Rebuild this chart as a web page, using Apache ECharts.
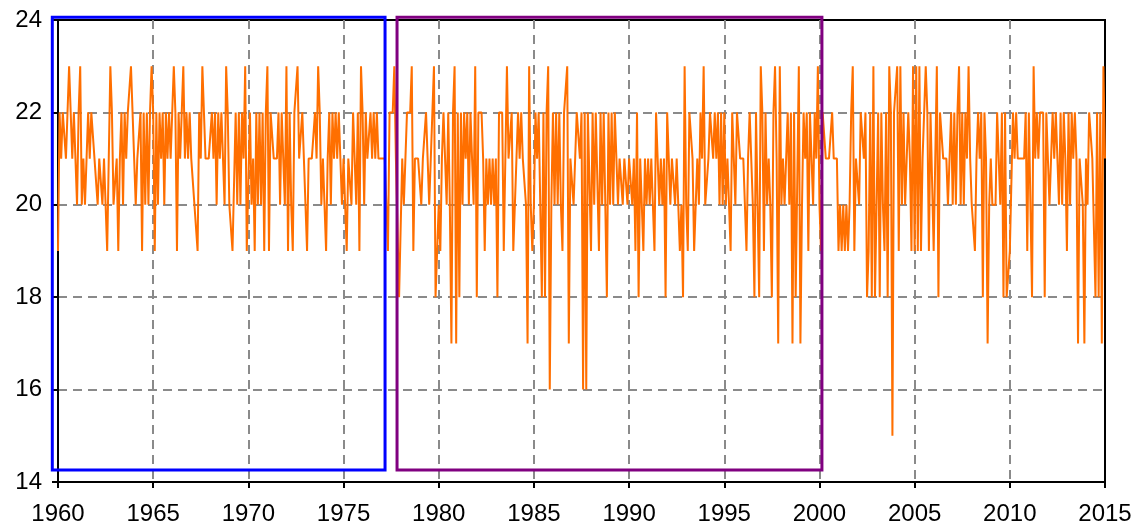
<!DOCTYPE html>
<html><head><meta charset="utf-8">
<script src="https://cdn.jsdelivr.net/npm/echarts@6/dist/echarts.min.js"></script>
<style>html,body{margin:0;padding:0;background:#fff}#c{width:1138px;height:532px}</style>
</head><body><div id="c"></div>
<script>
// Monthly series starting January 1960
const startYear = 1960;
const values1960s = [
  19,22,21,22,22,21,22,23,22,21,22,21,
  20,22,23,20,21,20,21,22,21,22,22,21,
  21,20,21,21,20,21,21,19,21,23,22,20,
  20,21,19,21,22,20,22,21,22,22,23,22,
  21,20,21,21,22,19,22,20,22,20,22,23,
  22,19,22,20,22,21,22,20,22,21,22,21,
  22,23,22,19,22,21,22,23,21,22,21,22,
  21,21,20,20,19,22,21,23,22,21,21,21,
  21,22,21,22,20,22,21,22,22,20,23,22,
  20,20,19,19,22,20,22,20,22,21,23,19
];
const values1970s = [
  19,22,20,21,19,22,20,22,20,22,19,22,
  23,19,22,22,21,21,21,22,20,22,21,20,
  23,19,22,20,19,22,22,23,21,21,22,21,
  21,19,21,21,21,21,22,21,23,22,20,21,
  20,19,21,22,20,22,21,22,21,22,21,20,
  21,20,19,21,21,20,22,22,20,22,19,23,
  22,20,22,21,21,22,21,22,21,22,21,21,
  21,21,21,20,19,22,22,22,23,21,21,18,
  18,21,20,21,22,22,22,23,19,21,21,21,
  21,20,21,21,22,21,20,21,22,23,18,18
];
const values1980s = [
  20,19,21,22,22,20,22,20,17,22,23,17,
  22,18,22,20,22,21,22,20,22,22,20,23,
  18,22,22,22,21,19,21,20,21,20,21,20,
  21,18,22,22,22,19,21,23,21,21,22,19,
  19,21,22,21,22,21,21,20,17,23,20,19,
  20,22,21,22,22,18,22,18,22,23,16,20,
  22,20,22,20,22,20,19,22,22,23,17,21,
  21,20,20,22,22,21,22,16,22,16,22,22,
  19,22,20,22,22,19,22,20,22,22,18,22,
  20,22,20,22,22,20,21,21,20,21,21,20
];
const values1990s = [
  21,21,20,21,19,22,18,21,21,19,21,20,
  21,20,21,20,19,22,22,20,21,20,21,18,
  22,22,20,21,21,20,21,21,19,20,18,23,
  20,19,22,22,21,19,19,21,20,22,21,23,
  20,20,21,22,22,21,22,21,22,20,22,20,
  22,20,21,20,19,22,22,20,22,22,21,21,
  21,21,19,21,22,21,20,18,22,22,18,23,
  22,19,22,20,21,20,18,22,23,21,17,23,
  20,21,20,21,22,20,22,17,22,18,18,23,
  17,20,22,21,22,19,22,22,20,22,21,23
];
const values2000s = [
  20,19,22,22,21,21,21,21,22,21,21,21,
  19,20,19,20,19,20,19,20,22,23,19,21,
  21,20,22,22,21,22,18,19,22,18,23,18,
  18,22,18,22,20,19,22,18,23,22,15,22,
  22,23,19,23,20,22,20,21,22,21,19,23,
  19,23,19,23,19,21,22,23,22,19,22,22,
  19,21,23,18,22,22,21,21,21,20,21,22,
  20,22,20,22,23,20,22,20,22,21,23,21,
  20,20,19,21,22,21,22,18,22,21,17,20,
  21,20,20,20,22,22,20,22,18,22,18,18
];
const values2010s = [
  19,19,22,21,22,21,21,21,21,21,22,19,
  22,22,18,23,21,22,21,22,22,22,18,22,
  22,20,21,22,21,22,21,20,22,20,22,21,
  19,22,20,22,21,22,21,17,21,21,20,17,
  21,20,22,22,21,21,18,22,18,22,17,23,
  21
];
const values = [].concat(values1960s, values1970s, values1980s, values1990s, values2000s, values2010s);

const xTickLabels = [1960, 1965, 1970, 1975, 1980, 1985, 1990, 1995, 2000, 2005, 2010, 2015];
const yTickLabels = [14, 16, 18, 20, 22, 24];

// highlighted periods (annotation boxes): [from, to, low, high]
const periodFrom = [1959.7, 1977.81];
const periodTo = [1977.18, 2000.13];
const periodLow = [14.26, 14.26];
const periodHigh = [24.06, 24.06];
const periodColors = ['#0000ff', '#800080'];

const seriesData = values.map((v, i) => [startYear + i / 12, v]);
const boxData = periodFrom.map((f, k) => [f, periodTo[k], periodLow[k], periodHigh[k], k]);

const font = "'Liberation Sans', Arial, sans-serif";
const splitStyle = { show: true, showMinLine: false, showMaxLine: false, lineStyle: { color: '#8a8a8a', width: 2, type: [9, 6] } };

const chart = echarts.init(document.getElementById('c'), null, { renderer: 'canvas' });

chart.setOption({
  animation: false,
  backgroundColor: '#fff',
  grid: { left: 58, right: 33, top: 20, bottom: 50, show: true, borderColor: '#000', borderWidth: 2, backgroundColor: 'transparent' },
  xAxis: {
    type: 'value',
    min: xTickLabels[0],
    max: xTickLabels[xTickLabels.length - 1],
    interval: 5,
    axisLine: { show: true, lineStyle: { color: '#000', width: 2 } },
    axisTick: { show: true, length: 6, lineStyle: { color: '#000', width: 2 } },
    axisLabel: { color: '#000', fontSize: 24, fontFamily: font, margin: 20, formatter: v => String(v) },
    splitLine: splitStyle
  },
  yAxis: {
    type: 'value',
    min: yTickLabels[0],
    max: yTickLabels[yTickLabels.length - 1],
    interval: 2,
    axisLine: { show: true, lineStyle: { color: '#000', width: 2 } },
    axisTick: { show: true, length: 6, lineStyle: { color: '#000', width: 2 } },
    axisLabel: { color: '#000', fontSize: 24, fontFamily: font, margin: 16 },
    splitLine: splitStyle
  },
  series: [{
    type: 'line',
    data: seriesData,
    showSymbol: false,
    symbol: 'none',
    lineStyle: { color: '#ff6f00', width: 2 },
    z: 3
  }, {
    type: 'custom',
    data: boxData,
    clip: false,
    silent: true,
    z: 5,
    renderItem: function (params, api) {
      const p1 = api.coord([api.value(0), api.value(3)]);
      const p2 = api.coord([api.value(1), api.value(2)]);
      return {
        type: 'rect',
        shape: { x: p1[0], y: p1[1], width: p2[0] - p1[0], height: p2[1] - p1[1] },
        style: { fill: 'none', stroke: periodColors[api.value(4)], lineWidth: 3 }
      };
    }
  }]
});
</script>
</body></html>
